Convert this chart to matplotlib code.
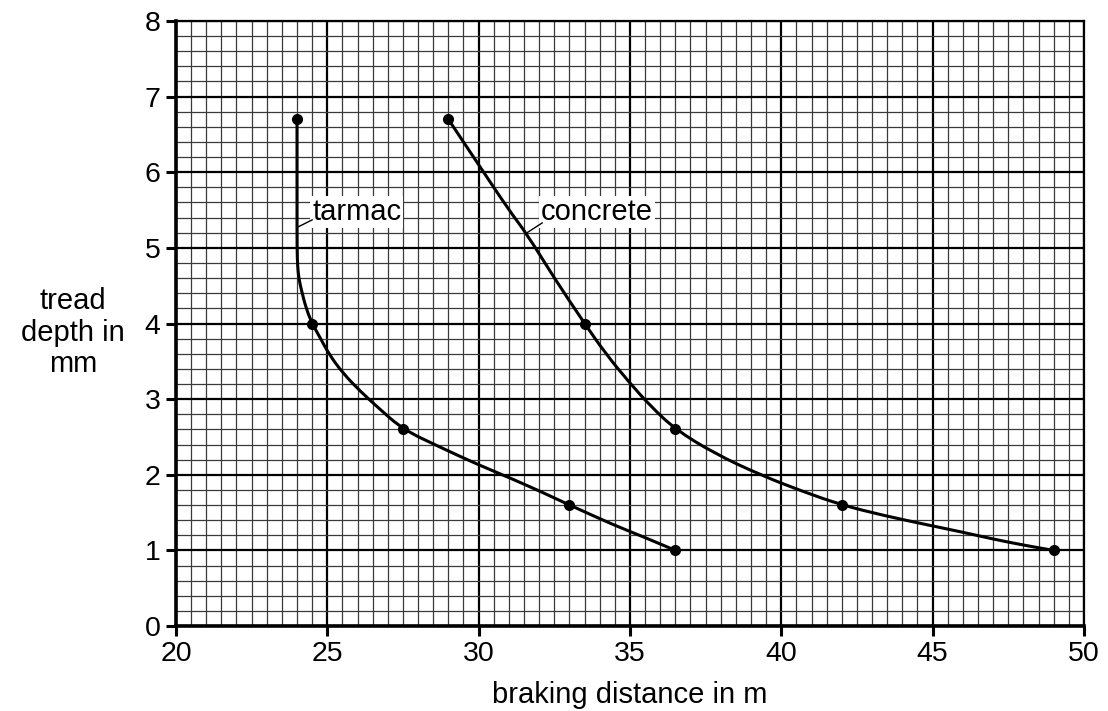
import numpy as np
import matplotlib.pyplot as plt
from matplotlib.ticker import MultipleLocator
from matplotlib.path import Path
from matplotlib.patches import PathPatch

plt.rcParams['font.family'] = ['Liberation Sans', 'DejaVu Sans']

# measured points (braking distance m, tread depth mm)
tarmac_x = [24.0, 24.5, 27.5, 33.0, 36.5]
tarmac_y = [6.7, 4.0, 2.6, 1.6, 1.0]
concrete_x = [29.0, 33.5, 36.5, 42.0, 49.0]
concrete_y = [6.7, 4.0, 2.6, 1.6, 1.0]

# hand-drawn curves
tarmac_curve_x = [24.0, 24.0, 24.0, 24.02, 24.06, 24.14, 24.3, 24.5, 24.78, 25.05,
                  25.5, 26.1, 26.7, 27.5, 28.7, 30.0, 31.5, 33.0, 34.5, 35.5, 36.5]
tarmac_curve_y = [6.7, 5.6, 5.0, 4.75, 4.6, 4.45, 4.2, 4.0, 3.8, 3.6,
                  3.35, 3.1, 2.88, 2.6, 2.37, 2.13, 1.88, 1.6, 1.33, 1.17, 1.0]
concrete_curve_x = [29.0, 30.0, 31.0, 31.6, 32.5, 33.5, 34.2, 35.0, 35.7, 36.5,
                    37.8, 39.3, 40.7, 42.0, 43.4, 44.8, 46.0, 47.0, 48.0, 49.0]
concrete_curve_y = [6.7, 6.1, 5.5, 5.18, 4.6, 4.0, 3.6, 3.21, 2.9, 2.6,
                    2.28, 2.0, 1.78, 1.6, 1.46, 1.34, 1.24, 1.15, 1.07, 1.0]


def smooth_path(xs, ys):
    # quadratic bezier through the midpoints, traced points act as controls
    pts = list(zip(xs, ys))
    verts = [pts[0]]
    codes = [Path.MOVETO]
    mid = ((pts[0][0] + pts[1][0]) / 2, (pts[0][1] + pts[1][1]) / 2)
    verts.append(mid)
    codes.append(Path.LINETO)
    for i in range(1, len(pts) - 1):
        nxt = ((pts[i][0] + pts[i + 1][0]) / 2, (pts[i][1] + pts[i + 1][1]) / 2)
        verts += [pts[i], nxt]
        codes += [Path.CURVE3, Path.CURVE3]
    verts.append(pts[-1])
    codes.append(Path.LINETO)
    return Path(verts, codes)


fig = plt.figure(figsize=(11.08, 7.11), dpi=100)
ax = fig.add_axes([0.1588, 0.1195, 0.8195, 0.851])

ax.set_xlim(20, 50)
ax.set_ylim(0, 8)
ax.xaxis.set_major_locator(MultipleLocator(5))
ax.xaxis.set_minor_locator(MultipleLocator(0.5))
ax.yaxis.set_major_locator(MultipleLocator(1))
ax.yaxis.set_minor_locator(MultipleLocator(0.2))

ax.grid(True, which='minor', color='#3a3a3a', lw=0.9)
ax.grid(True, which='major', color='black', lw=1.6)
ax.set_axisbelow(True)

ax.tick_params(which='minor', length=0)
ax.tick_params(which='major', direction='out', length=7, width=2.2,
               labelsize=20.5, pad=4)
for side in ['left', 'bottom']:
    ax.spines[side].set_linewidth(2.6)
for side in ['top', 'right']:
    ax.spines[side].set_linewidth(1.6)

for cx, cy in [(tarmac_curve_x, tarmac_curve_y), (concrete_curve_x, concrete_curve_y)]:
    ax.add_patch(PathPatch(smooth_path(cx, cy), fill=False, edgecolor='black',
                           lw=2.2, capstyle='round', zorder=3))
ax.plot(tarmac_x, tarmac_y, 'o', color='black', ms=7, zorder=4)
ax.plot(concrete_x, concrete_y, 'o', color='black', ms=7, zorder=4)

box = dict(facecolor='white', edgecolor='none', pad=1.5)
ax.text(24.5, 5.48, 'tarmac', fontsize=21, va='center', ha='left',
        bbox=box, zorder=5)
ax.text(32.05, 5.47, 'concrete', fontsize=21, va='center', ha='left',
        bbox=box, zorder=5)
ax.plot([24.05, 24.5], [5.28, 5.37], color='black', lw=1, zorder=5)
ax.plot([31.6, 32.1], [5.2, 5.33], color='black', lw=1, zorder=5)

ax.set_xlabel('braking distance in m', fontsize=21, labelpad=10)
fig.text(0.066, 0.532, 'tread\ndepth in\nmm', fontsize=21, ha='center',
         va='center', linespacing=1.15)

fig.savefig('out.png', dpi=100)
